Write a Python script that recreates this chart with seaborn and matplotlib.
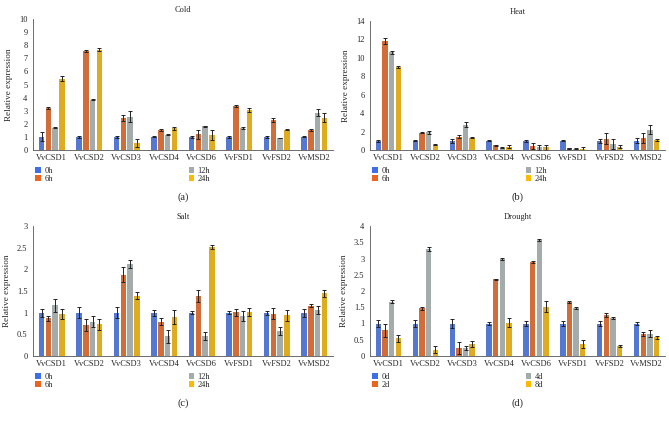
import numpy as np
import pandas as pd
import matplotlib
matplotlib.use("Agg")
import matplotlib.pyplot as plt
import seaborn as sns
from matplotlib.patches import Patch
from matplotlib.ticker import FuncFormatter, MultipleLocator

sns.set_style("white")
plt.rcParams['font.family'] = ['Liberation Serif', 'DejaVu Serif']

genes = ["VvCSD1", "VvCSD2", "VvCSD3", "VvCSD4", "VvCSD6", "VvFSD1", "VvFSD2", "VvMSD2"]
colors = ["#3F6FE6", "#EB6420", "#A3ACAC", "#FFBA00"]

times_h = ["0h", "6h", "12h", "24h"]
times_d = ["0d", "2d", "4d", "8d"]

# Cold (rows = time points, columns = genes)
cold_mean = [
    [1.0, 1.0, 1.0, 1.0, 1.0, 1.0, 1.0, 1.0],
    [3.2, 7.55, 2.45, 1.55, 1.2, 3.35, 2.3, 1.5],
    [1.7, 3.85, 2.55, 1.15, 1.8, 1.65, 0.92, 2.85],
    [5.45, 7.65, 0.55, 1.65, 1.15, 3.05, 1.55, 2.45],
]
cold_err = [
    [0.35, 0.05, 0.1, 0.04, 0.1, 0.06, 0.05, 0.04],
    [0.06, 0.06, 0.2, 0.08, 0.35, 0.06, 0.15, 0.08],
    [0.03, 0.06, 0.4, 0.04, 0.06, 0.08, 0.03, 0.25],
    [0.18, 0.1, 0.32, 0.1, 0.4, 0.18, 0.05, 0.35],
]

# Heat
heat_mean = [
    [1.0, 1.0, 1.0, 1.0, 1.0, 1.0, 1.0, 1.0],
    [11.85, 1.85, 1.45, 0.5, 0.45, 0.2, 1.2, 1.3],
    [10.6, 1.9, 2.75, 0.25, 0.3, 0.15, 0.65, 2.2],
    [9.0, 0.55, 1.35, 0.35, 0.3, 0.1, 0.35, 1.05],
]
heat_err = [
    [0.1, 0.05, 0.2, 0.06, 0.08, 0.05, 0.22, 0.28],
    [0.35, 0.05, 0.15, 0.05, 0.3, 0.04, 0.6, 0.5],
    [0.15, 0.12, 0.3, 0.08, 0.25, 0.04, 0.55, 0.5],
    [0.1, 0.05, 0.08, 0.18, 0.25, 0.25, 0.15, 0.1],
]

# Salt
salt_mean = [
    [1.0, 1.0, 1.0, 1.0, 1.0, 1.0, 1.0, 1.0],
    [0.87, 0.72, 1.88, 0.79, 1.39, 1.01, 0.98, 1.16],
    [1.17, 0.79, 2.13, 0.46, 0.46, 0.93, 0.57, 1.07],
    [0.97, 0.73, 1.39, 0.91, 2.51, 1.01, 0.94, 1.45],
]
salt_err = [
    [0.09, 0.12, 0.13, 0.07, 0.03, 0.03, 0.05, 0.09],
    [0.06, 0.14, 0.18, 0.08, 0.14, 0.08, 0.13, 0.04],
    [0.15, 0.13, 0.09, 0.15, 0.09, 0.12, 0.09, 0.09],
    [0.12, 0.13, 0.08, 0.16, 0.05, 0.09, 0.13, 0.08],
]

# Drought
drought_mean = [
    [1.0, 1.0, 1.0, 1.0, 1.0, 1.0, 1.0, 1.0],
    [0.8, 1.47, 0.24, 2.36, 2.9, 1.66, 1.25, 0.68],
    [1.67, 3.3, 0.25, 2.99, 3.57, 1.48, 1.16, 0.68],
    [0.55, 0.2, 0.38, 1.03, 1.52, 0.37, 0.31, 0.57],
]
drought_err = [
    [0.12, 0.11, 0.14, 0.06, 0.09, 0.09, 0.09, 0.04],
    [0.2, 0.05, 0.18, 0.02, 0.03, 0.04, 0.06, 0.05],
    [0.05, 0.06, 0.05, 0.03, 0.04, 0.04, 0.03, 0.11],
    [0.11, 0.12, 0.09, 0.13, 0.17, 0.13, 0.04, 0.05],
]

panels = [
    ("Cold", cold_mean, cold_err, times_h, 10, 1, "(a)"),
    ("Heat", heat_mean, heat_err, times_h, 14, 2, "(b)"),
    ("Salt", salt_mean, salt_err, times_h, 3, 0.5, "(c)"),
    ("Drought", drought_mean, drought_err, times_d, 4, 0.5, "(d)"),
]

W, H = 669, 426
fig = plt.figure(figsize=(W / 100, H / 100), dpi=100)

# axes boxes in pixel coordinates: left, top, right, bottom
boxes = [
    (33, 19, 333, 150),
    (370, 21, 665, 150),
    (33, 226, 333, 356),
    (370, 226, 665, 356),
]

fs = 6.0
for (title, mean, err, times, ymax, step, tag), (l, t, r, b) in zip(panels, boxes):
    ax = fig.add_axes([l / W, 1 - b / H, (r - l) / W, (b - t) / H])
    rows = []
    for j, tm in enumerate(times):
        for i, g in enumerate(genes):
            rows.append({"gene": g, "time": tm, "value": mean[j][i], "err": err[j][i]})
    df = pd.DataFrame(rows)
    sns.barplot(data=df, x="gene", y="value", hue="time", order=genes,
                hue_order=times, palette=colors, width=0.72, gap=0.2,
                errorbar=None, legend=False, ax=ax, linewidth=0)
    bars = [p for p in ax.patches]
    xs = [p.get_x() + p.get_width() / 2 for p in bars]
    hs = [p.get_height() for p in bars]
    ax.errorbar(xs, hs, yerr=df["err"].values, fmt="none", ecolor="#222222",
                elinewidth=0.7, capsize=1.4, capthick=0.7)
    ax.set_ylim(0, ymax)
    ax.set_xlim(-0.5, len(genes) - 0.5)
    ax.yaxis.set_major_locator(MultipleLocator(step))
    ax.yaxis.set_major_formatter(FuncFormatter(lambda v, p: f"{v:g}"))
    ax.set_xticks(range(len(genes)))
    ax.set_xticklabels(genes)
    ax.set_xticks(np.arange(-0.5, len(genes), 1.0), minor=True)
    ax.tick_params(axis="x", which="major", length=0, labelsize=fs, pad=3)
    ax.tick_params(axis="x", which="minor", length=2, width=0.5, color="#555555", direction="out")
    ax.tick_params(axis="y", length=2, width=0.5, labelsize=fs, pad=2, color="#555555", direction="out")
    ax.set_xlabel("")
    ax.set_ylabel("Relative expression", fontsize=6.6, labelpad=4)
    for s in ["top", "right"]:
        ax.spines[s].set_visible(False)
    for s in ["left", "bottom"]:
        ax.spines[s].set_linewidth(0.6)
        ax.spines[s].set_color("#555555")
    ax.set_title(title, fontsize=fs, pad=5)

    handles = [Patch(facecolor=c, edgecolor="none") for c in colors]
    fig.legend(handles, times, loc="upper left", ncol=2,
               bbox_to_anchor=((l + 2) / W, 1 - (b + 17) / H),
               frameon=False, fontsize=fs, handlelength=0.7, handleheight=0.7,
               handletextpad=0.4, columnspacing=16.3, labelspacing=0.0,
               borderpad=0, borderaxespad=0)
    fig.text((l + r) / 2 / W, 1 - (b + 47) / H, tag, fontsize=7.5,
             ha="center", va="center")

fig.savefig("out.png", dpi=100)
